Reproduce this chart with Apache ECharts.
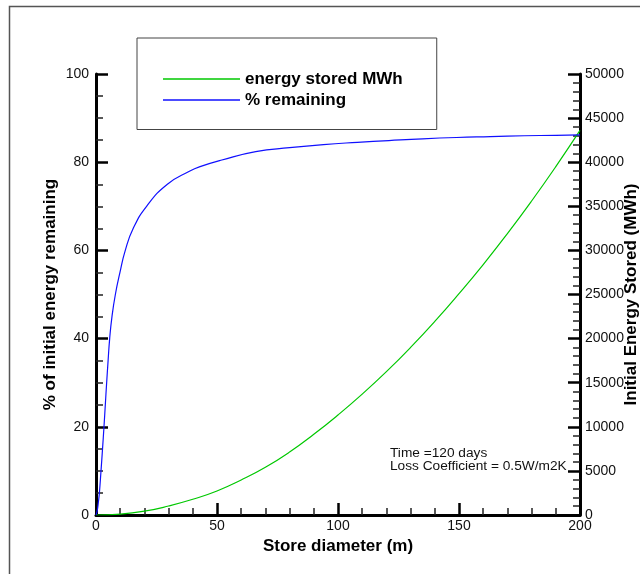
<!DOCTYPE html>
<html>
<head>
<meta charset="utf-8">
<script src="https://cdn.jsdelivr.net/npm/echarts@6/dist/echarts.min.js"></script>
<style>
html,body{margin:0;padding:0;background:#fff;}
#chart{width:640px;height:574px;}
</style>
</head>
<body>
<div id="chart"></div>
<script>
// ---- data ----
var xTitle = 'Store diameter (m)';
var leftTitle = '% of initial energy remaining';
var rightTitle = 'Initial Energy Stored (MWh)';
var seriesNames = ['energy stored MWh', '% remaining'];
var noteLines = ['Time =120 days', 'Loss Coefficient = 0.5W/m2K'];

var energyDiameter = [0, 10, 20, 30, 40, 50, 60, 70, 80, 90, 100, 110, 120, 130, 140, 150, 160, 170, 180, 190, 200];
var energyStored = [0, 100, 430, 1020, 1780, 2720, 3970, 5410, 7140, 9150, 11340, 13700, 16250, 19000, 21950, 25100, 28400, 31900, 35600, 39500, 43600];

var pctDiameter = [0, 0.5, 1, 1.4, 2.07, 2.7, 3.3, 3.85, 4.4, 5, 5.65, 6.6, 8, 9.9, 12.1, 15.4, 20.9, 29.5, 38.8, 43, 52, 66, 80, 94, 108, 121, 135, 149, 163, 177, 190, 200];
var pctRemaining = [0, 1, 3, 5, 10, 15, 20, 25, 30, 35, 40, 45, 50, 55, 60, 65, 70, 75, 78, 79, 80.5, 82.4, 83.3, 84, 84.5, 84.9, 85.3, 85.6, 85.8, 86.0, 86.1, 86.2];

var FONT = 'Liberation Sans, Arial, sans-serif';

function pairs(xs, ys) {
  return xs.map(function (x, i) { return [x, ys[i]]; });
}

var chart = echarts.init(document.getElementById('chart'), null, {renderer: 'canvas'});

function axisCommon() {
  return {
    axisLine: {show: true, lineStyle: {color: '#000', width: 3}},
    axisTick: {show: true, inside: true, length: 12, lineStyle: {color: '#000', width: 2.5}},
    splitLine: {show: false},
    axisLabel: {fontSize: 14, color: '#111', fontFamily: FONT, formatter: function (v) { return String(v); }},
    nameTextStyle: {fontSize: 17, fontWeight: 'bold', color: '#000', fontFamily: FONT},
    nameLocation: 'middle',
    nameMoveOverlap: false
  };
}

var xAxis = Object.assign(axisCommon(), {
  type: 'value', min: 0, max: 200, interval: 50,
  name: xTitle, nameGap: 23,
  minorTick: {show: true, splitNumber: 5, length: 7, lineStyle: {color: '#222', width: 1.5}}
});
xAxis.axisLabel.margin = 4;

var yLeft = Object.assign(axisCommon(), {
  type: 'value', position: 'left', min: 0, max: 100, interval: 20,
  name: leftTitle, nameGap: 37, nameRotate: 90,
  minorTick: {show: true, splitNumber: 4, length: 7, lineStyle: {color: '#222', width: 1.5}}
});
yLeft.axisLabel.margin = 7;

var yRight = Object.assign(axisCommon(), {
  type: 'value', position: 'right', min: 0, max: 50000, interval: 5000,
  name: rightTitle, nameGap: 43, nameRotate: 90,
  minorTick: {show: true, splitNumber: 5, length: 7, lineStyle: {color: '#222', width: 1.5}}
});
yRight.axisLabel.margin = 5;

var option = {
  backgroundColor: '#fff',
  animation: false,
  grid: {left: 96, right: 60, top: 74, bottom: 59, containLabel: false, outerBoundsMode: 'none'},
  xAxis: xAxis,
  yAxis: [yLeft, yRight],
  legend: {
    data: seriesNames,
    orient: 'vertical',
    left: 137, top: 38,
    padding: [32.5, 34, 21, 26],
    borderColor: '#444', borderWidth: 1,
    icon: 'rect', itemWidth: 77, itemHeight: 1.6, itemGap: 4, itemTextGap: 12,
    textStyle: {fontSize: 17, fontWeight: 'bold', color: '#000', fontFamily: FONT, lineHeight: 17},
    selectedMode: false
  },
  graphic: [
    {type: 'rect', silent: true, shape: {x: 9.5, y: 6.5, width: 700, height: 700},
     style: {fill: 'none', stroke: '#555', lineWidth: 1.5}, z: -1},
    {type: 'text', left: 390, top: 446.5, silent: true,
     style: {text: noteLines.join('\n'), font: '13.7px ' + FONT, fill: '#111', lineHeight: 12.5}}
  ],
  series: [
    {name: seriesNames[0], type: 'line', yAxisIndex: 1, showSymbol: false, symbol: 'none',
     smooth: 0.5,
     lineStyle: {color: '#00c800', width: 1.2}, itemStyle: {color: '#00c800'},
     data: pairs(energyDiameter, energyStored)},
    {name: seriesNames[1], type: 'line', yAxisIndex: 0, showSymbol: false, symbol: 'none',
     smooth: 0.5,
     lineStyle: {color: '#1010ff', width: 1.2}, itemStyle: {color: '#1010ff'},
     data: pairs(pctDiameter, pctRemaining)}
  ]
};
chart.setOption(option);
</script>
</body>
</html>
